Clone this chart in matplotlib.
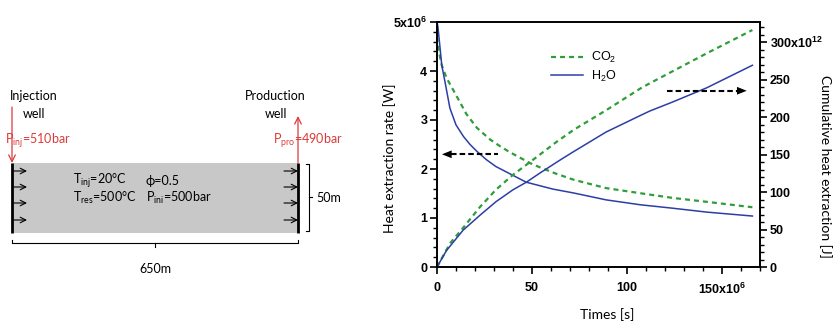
import matplotlib
matplotlib.use('Agg')
import matplotlib.pyplot as plt
from matplotlib.patches import Rectangle
from matplotlib.ticker import MultipleLocator

plt.rcParams['mathtext.default'] = 'regular'
plt.rcParams['lines.scale_dashes'] = False

# time in 1e6 s, rate in W, cumulative in 1e12 J
t_rate_co2 = [0, 1, 2.5, 5, 10, 15.5, 21, 28, 33, 38, 49, 55, 63, 72, 89, 108, 124, 142, 166]
rate_co2 = [4.7, 4.4, 4.12, 3.86, 3.51, 3.12, 2.84, 2.60, 2.47, 2.35, 2.12, 2.02, 1.90, 1.78, 1.61, 1.50, 1.41, 1.33, 1.22]

t_rate_h2o = [0, 0.5, 2.5, 4.2, 6.8, 10, 14, 17.4, 21, 26, 31, 47, 54, 61, 72, 89, 107, 124, 142, 166]
rate_h2o = [5.0, 4.9, 4.12, 3.78, 3.24, 2.90, 2.66, 2.50, 2.36, 2.19, 2.05, 1.73, 1.66, 1.59, 1.51, 1.37, 1.27, 1.20, 1.12, 1.04]

t_cum_co2 = [0, 7, 14, 22.6, 31, 40, 49, 63, 72, 89, 107, 112, 124, 142, 166]
cum_co2 = [0, 32, 53, 80, 103, 123, 140, 167, 183, 209, 238, 245, 261, 285, 316]

t_cum_h2o = [0, 5, 13.7, 22.6, 31, 40, 47, 54, 65, 72, 89, 107, 112, 124, 142, 166]
cum_h2o = [0, 22, 49, 69, 87, 103, 113, 125, 143, 154, 180, 202, 208, 220, 239, 269]

x_ticks = [0, 50, 100, 150]
x_labels = ['0', '50', '100', '150x10$^{6}$']
rate_ticks = [0, 1, 2, 3, 4, 5]
rate_labels = ['0', '1', '2', '3', '4', '5x10$^{6}$']
cum_ticks = [0, 50, 100, 150, 200, 250, 300]
cum_labels = ['0', '50', '100', '150', '200', '250', '300x10$^{12}$']

green = '#2f9e3a'
blue = '#2c3ea6'
red = '#dc3a3a'
txt_font = ['Lato', 'DejaVu Sans']
tick_font = 'Liberation Sans'

fig = plt.figure(figsize=(8.37, 3.23), dpi=100)

# ---- schematic of the reservoir (pixel-like units) ----
sk = fig.add_axes([0, 0, 335 / 837, 1])
sk.set_xlim(0, 335)
sk.set_ylim(323, 0)
sk.axis('off')
sk.add_patch(Rectangle((12, 163), 286, 70, facecolor='#c8c8c8', edgecolor='none'))
sk.plot([12, 12], [163, 233], color='k', lw=2.0, solid_capstyle='butt')
sk.plot([298, 298], [163, 233], color='k', lw=2.0, solid_capstyle='butt')
for yy in [171, 187, 203, 220]:
    for x0 in [13, 284]:
        sk.annotate('', xy=(x0 + 14, yy), xytext=(x0, yy),
                    arrowprops=dict(arrowstyle='->', color='k', lw=0.8,
                                    shrinkA=0, shrinkB=0, mutation_scale=10))
sk.annotate('', xy=(12, 163), xytext=(12, 107),
            arrowprops=dict(arrowstyle='->', color=red, lw=0.9,
                            shrinkA=0, shrinkB=0, mutation_scale=12))
sk.annotate('', xy=(298, 116), xytext=(298, 163),
            arrowprops=dict(arrowstyle='->', color=red, lw=0.9,
                            shrinkA=0, shrinkB=0, mutation_scale=12))

sk.text(10, 96, 'Injection', ha='left', va='center', fontsize=9, family=txt_font)
sk.text(34, 114, 'well', ha='center', va='center', fontsize=9, family=txt_font)
sk.text(275, 96, 'Production', ha='center', va='center', fontsize=9, family=txt_font)
sk.text(276, 114, 'well', ha='center', va='center', fontsize=9, family=txt_font)
sk.text(5, 141, 'P$_{inj}$=510bar', ha='left', va='center', fontsize=9, color=red, family=txt_font)
sk.text(273, 141, 'P$_{pro}$=490bar', ha='left', va='center', fontsize=9, color=red, family=txt_font)
sk.text(73, 181, 'T$_{inj}$=20°C', ha='left', va='center', fontsize=9, family=txt_font)
sk.text(146, 181, 'ϕ=0.5', ha='left', va='center', fontsize=9, family=txt_font)
sk.text(73, 198, 'T$_{res}$=500°C', ha='left', va='center', fontsize=9, family=txt_font)
sk.text(146, 198, 'P$_{ini}$=500bar', ha='left', va='center', fontsize=9, family=txt_font)

# brackets
sk.plot([306, 309, 309, 306], [164, 164, 231, 231], color='k', lw=0.8)
sk.plot([309, 312], [197, 197], color='k', lw=0.8)
sk.text(316, 198, '50m', ha='left', va='center', fontsize=9, family=txt_font)
sk.plot([12, 12, 298, 298], [240, 243, 243, 240], color='k', lw=0.8)
sk.plot([155, 155], [243, 247], color='k', lw=0.8)
sk.text(155, 269, '650m', ha='center', va='center', fontsize=9, family=txt_font)

# ---- heat extraction chart ----
ax = fig.add_axes([437 / 837, 56 / 323, 323 / 837, 245 / 323])
ax2 = ax.twinx()

ax.plot(t_rate_co2, rate_co2, color=green, lw=1.6, dashes=(3.6, 2.9))
ax.plot(t_rate_h2o, rate_h2o, color=blue, lw=1.1)
l_co2, = ax2.plot(t_cum_co2, cum_co2, color=green, lw=1.6, dashes=(3.6, 2.9))
l_h2o, = ax2.plot(t_cum_h2o, cum_h2o, color=blue, lw=1.1)

ax.set_xlim(0, 170)
ax.set_ylim(0, 5)
ax2.set_ylim(0, 326.7)

ax.set_xticks(x_ticks)
ax.set_xticklabels(x_labels)
ax.xaxis.set_minor_locator(MultipleLocator(10))
ax.set_yticks(rate_ticks)
ax.set_yticklabels(rate_labels)
ax.yaxis.set_minor_locator(MultipleLocator(0.2))
ax2.set_yticks(cum_ticks)
ax2.set_yticklabels(cum_labels)
ax2.yaxis.set_minor_locator(MultipleLocator(10))

for a in (ax, ax2):
    a.tick_params(which='major', direction='out', length=5, width=1.2, color='k')
    a.tick_params(which='minor', direction='out', length=3, width=1.0, color='k')
    for s in a.spines.values():
        s.set_linewidth(1.2)
        s.set_color('k')
    for lab in a.get_xticklabels() + a.get_yticklabels():
        lab.set_fontfamily(tick_font)
        lab.set_fontweight('bold')
        lab.set_fontsize(9)
ax.tick_params(axis='x', which='major', pad=6)
ax.tick_params(axis='y', which='major', pad=2)
ax2.tick_params(axis='y', which='major', pad=2)

leg = ax2.legend([l_co2, l_h2o], ['CO$_2$', 'H$_2$O'], loc='upper left',
                 bbox_to_anchor=(0.335, 0.91), frameon=False, handlelength=2.5,
                 handletextpad=0.7, labelspacing=0.25, borderpad=0,
                 prop={'family': tick_font, 'size': 9})

# dashed pointer arrows: dashed shaft + small filled head
head = dict(arrowstyle='-|>,head_length=0.5,head_width=0.2', color='k', lw=0,
            shrinkA=0, shrinkB=0, mutation_scale=14)
ax.plot([7.6, 32], [2.3, 2.3], color='k', lw=1.5, dashes=(4, 2.2))
ax.annotate('', xy=(2.6, 2.3), xytext=(8.0, 2.3), arrowprops=head)
ax2.plot([121, 158], [235, 235], color='k', lw=1.5, dashes=(4, 2.2))
ax2.annotate('', xy=(163, 235), xytext=(157.6, 235), arrowprops=head)

fig.text(390 / 837, 1 - 158 / 323, 'Heat extraction rate [W]', rotation=90,
         ha='center', va='center', fontsize=10, family=txt_font)
fig.text(825 / 837, 1 - 166 / 323, 'Cumulative heat extraction [J]', rotation=270,
         ha='center', va='center', fontsize=10, family=txt_font)
fig.text(607 / 837, 1 - 315 / 323, 'Times [s]', ha='center', va='center',
         fontsize=10, family=txt_font)

fig.savefig('out.png', dpi=100)
